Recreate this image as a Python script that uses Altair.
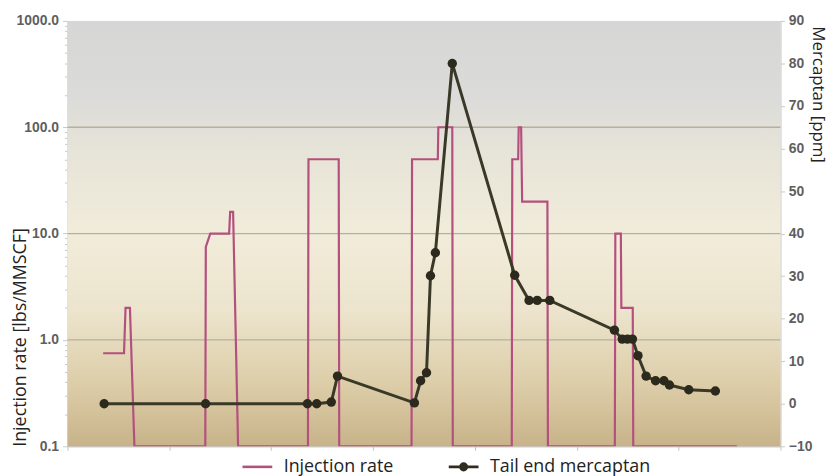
import altair as alt
import pandas as pd

# ---------------- data ----------------
# Injection rate [lbs/MMSCF] - step profile, x in days
inj_day = [0.350, 0.555, 0.570, 0.613, 0.657,
           1.353, 1.358, 1.402, 1.587, 1.597, 1.626, 1.675,
           2.361, 2.366, 2.663, 2.668,
           3.378, 3.383, 3.636, 3.641, 3.778, 3.783,
           4.362, 4.367, 4.425, 4.430, 4.454, 4.464, 4.712, 4.717,
           5.374, 5.379, 5.433, 5.438, 5.550, 5.555,
           6.572]
inj_rate = [0.75, 0.75, 2.0, 2.0, 0.1,
            0.1, 7.5, 10.0, 10.0, 16.0, 16.0, 0.1,
            0.1, 50.0, 50.0, 0.1,
            0.1, 50.0, 50.0, 100.0, 100.0, 0.1,
            0.1, 50.0, 50.0, 100.0, 100.0, 20.0, 20.0, 0.1,
            0.1, 10.0, 10.0, 2.0, 2.0, 0.1,
            0.1]

# Tail end mercaptan [ppm]
merc_day = [0.360, 1.356, 2.356, 2.447, 2.590, 2.651,
            3.406, 3.467, 3.525, 3.564, 3.612, 3.778,
            4.391, 4.532, 4.612, 4.735,
            5.370, 5.446, 5.498, 5.547, 5.601, 5.681,
            5.774, 5.856, 5.910, 6.100, 6.361]
merc_ppm = [0.0, 0.0, 0.0, 0.0, 0.4, 6.5,
            0.2, 5.4, 7.3, 30.1, 35.5, 80.0,
            30.2, 24.3, 24.3, 24.3,
            17.3, 15.2, 15.2, 15.2, 11.3, 6.5,
            5.4, 5.4, 4.4, 3.3, 3.0]

grid_rates = [1, 10, 100]
left_ticks = [0.1, 0.2, 0.3, 0.4, 0.5, 0.6, 0.7, 0.8, 0.9,
              1, 2, 3, 4, 5, 6, 7, 8, 9,
              10, 20, 30, 40, 50, 60, 70, 80, 90,
              100, 200, 300, 400, 500, 600, 700, 800, 900, 1000]
right_ticks = [-10, 0, 10, 20, 30, 40, 50, 60, 70, 80, 90]
x_ticks = [0, 1, 2, 3, 4, 5, 6, 7]

series_names = ["Injection rate", "Tail end mercaptan"]
series_colors = ["#b4507e", "#2e2d20"]
series_symbols = [
    "M-1,0L1,0",
    "M-1,0L1,0M-0.22,0a0.22,0.22 0 1,0 0.44,0a0.22,0.22 0 1,0 -0.44,0"
    "M-0.08,0a0.08,0.08 0 1,0 0.16,0a0.08,0.08 0 1,0 -0.16,0",
]

# ---------------- styling ----------------
INJ_COLOR = "#b4507e"
MERC_LINE = "#3a3928"
MERC_DOT = "#2b2a1d"
W, H = 719, 429

inj_df = pd.DataFrame({"day": inj_day, "rate": inj_rate, "i": list(range(len(inj_day)))})
merc_df = pd.DataFrame({"day": merc_day, "ppm": merc_ppm, "i": list(range(len(merc_day)))})
grid_df = pd.DataFrame({"rate": grid_rates})
leg_df = pd.DataFrame({"series": series_names})

gradient = {
    "gradient": "linear", "x1": 0, "y1": 0, "x2": 0, "y2": 1,
    "stops": [
        {"offset": 0.0, "color": "#d6d6d6"},
        {"offset": 0.18, "color": "#dbdbd9"},
        {"offset": 0.30, "color": "#e6e3d8"},
        {"offset": 0.50, "color": "#f1ecda"},
        {"offset": 0.68, "color": "#ece4cd"},
        {"offset": 0.85, "color": "#ddcea9"},
        {"offset": 1.0, "color": "#c8b389"},
    ],
}

major_test = "abs(log(datum.value)/LN10 - round(log(datum.value)/LN10)) < 0.001"

x_enc = alt.X(
    "day:Q",
    scale=alt.Scale(domain=[0, 7], nice=False, zero=False),
    axis=alt.Axis(values=x_ticks, labels=False, ticks=True, tickSize=4,
                  tickColor="#c4c4c4", domainColor="#bdbdbd", grid=False, title=None),
)

y_left = alt.Y(
    "rate:Q",
    scale=alt.Scale(type="log", domain=[0.1, 1000], nice=False),
    axis=alt.Axis(
        orient="left", values=left_ticks, grid=False,
        labelExpr=f"({major_test}) ? format(datum.value, '.1f') : ''",
        tickSize={"condition": {"test": major_test, "value": 5}, "value": 3},
        tickColor="#c8c8c8", domainColor="#d2d2d2",
        labelFont="Liberation Sans", labelFontWeight="bold", labelFontSize=14,
        labelColor="#5e5e5e", labelPadding=4, labelFlush=False,
        title="Injection rate [lbs/MMSCF]", titleFont="Open Sans", titleFontSize=18,
        titleFontWeight="normal", titleColor="#222222", titleAngle=270,
        titleAlign="left", titleBaseline="alphabetic", titleX=-42, titleY=H,
    ),
)

y_right = alt.Y(
    "ppm:Q",
    scale=alt.Scale(domain=[-10, 90], nice=False, zero=False),
    axis=alt.Axis(
        orient="right", values=right_ticks, grid=False, tickSize=4,
        tickColor="#c8c8c8", domainColor="#d2d2d2",
        labelFont="Liberation Sans", labelFontWeight="bold", labelFontSize=14,
        labelColor="#5e5e5e", labelPadding=4, labelFlush=False,
        title="Mercaptan [ppm]", titleFont="Open Sans", titleFontSize=17,
        titleFontWeight="normal", titleColor="#222222", titleAngle=90,
        titleAlign="left", titleBaseline="alphabetic", titleX=32, titleY=5,
    ),
)

bg = alt.Chart(pd.DataFrame({"a": [0]})).mark_rect(color=gradient).encode(
    x=alt.value(0), x2=alt.value(W), y=alt.value(0), y2=alt.value(H)
)

grid = alt.Chart(grid_df).mark_rule(color="#b7af9e", strokeWidth=1.3).encode(y=y_left)

inj_line = alt.Chart(inj_df).mark_line(color=INJ_COLOR, strokeWidth=2.2, clip=True).encode(
    x=x_enc, y=y_left, order="i:Q"
)

merc_line = alt.Chart(merc_df).mark_line(color=MERC_LINE, strokeWidth=3).encode(
    x=x_enc, y=y_right, order="i:Q"
)
merc_pts = alt.Chart(merc_df).mark_point(
    filled=True, color=MERC_DOT, size=90, opacity=1
).encode(x=x_enc, y=y_right)

leg_common = dict(
    title=None, orient="none", legendX=175, legendY=433, direction="horizontal",
    symbolSize=900, symbolStrokeWidth=2.6, symbolOpacity=1,
    labelFont="Open Sans", labelFontSize=18, labelColor="#222222",
    labelOffset=10, columnPadding=50, labelLimit=300,
)
legend_layer = alt.Chart(leg_df).mark_point(filled=False, strokeWidth=2.6, opacity=0).encode(
    color=alt.Color("series:N", scale=alt.Scale(domain=series_names, range=series_colors),
                    legend=alt.Legend(**leg_common)),
    shape=alt.Shape("series:N", scale=alt.Scale(domain=series_names, range=series_symbols),
                    legend=alt.Legend(**leg_common)),
)

chart = alt.layer(
    bg,
    alt.layer(grid, inj_line),
    alt.layer(merc_line, merc_pts),
    legend_layer,
).resolve_scale(y="independent").properties(
    width=W, height=H,
    padding={"left": 60, "top": 11, "right": 52, "bottom": 36},
    autosize=alt.AutoSizeParams(type="none"),
).configure_view(stroke=None).configure(background="white")

chart.save("out.html", embed_options={"renderer": "svg", "actions": False})
